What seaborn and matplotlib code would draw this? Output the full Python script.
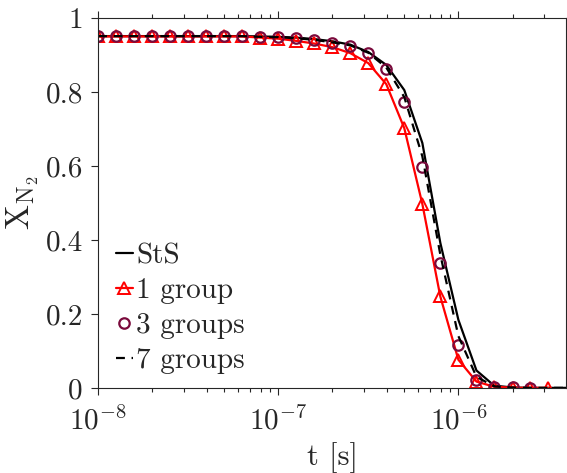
import matplotlib
matplotlib.use("Agg")
import matplotlib.pyplot as plt
from matplotlib.ticker import FuncFormatter, LogLocator
import numpy as np
import pandas as pd
import seaborn as sns

# tiempo [s], una muestra cada 0.1 decadas
t = [1.00e-8, 1.26e-8, 1.58e-8, 2.00e-8, 2.51e-8, 3.16e-8, 3.98e-8, 5.01e-8, 6.31e-8, 7.94e-8,
     1.00e-7, 1.26e-7, 1.58e-7, 2.00e-7, 2.51e-7, 3.16e-7, 3.98e-7, 5.01e-7, 6.31e-7, 7.94e-7,
     1.00e-6, 1.26e-6, 1.58e-6, 2.00e-6, 2.51e-6, 3.16e-6, 3.98e-6]

sts = [0.951, 0.951, 0.951, 0.951, 0.951, 0.951, 0.951, 0.951, 0.951, 0.950,
       0.949, 0.947, 0.943, 0.937, 0.928, 0.908, 0.873, 0.805, 0.662, 0.392,
       0.184, 0.047, 0.006, 0.001, 0.0, 0.0, 0.0]
g1 = [0.950, 0.950, 0.950, 0.950, 0.950, 0.950, 0.950, 0.950, 0.950, 0.947,
      0.944, 0.938, 0.931, 0.921, 0.905, 0.878, 0.821, 0.702, 0.497, 0.247,
      0.076, 0.017, 0.003, 0.0005, 0.0, 0.0]
g3 = [0.951, 0.951, 0.951, 0.951, 0.951, 0.951, 0.951, 0.951, 0.951, 0.949,
      0.948, 0.945, 0.941, 0.933, 0.925, 0.905, 0.862, 0.774, 0.596, 0.338,
      0.116, 0.022, 0.003, 0.001, 0.0]
g7 = [0.951, 0.951, 0.951, 0.951, 0.951, 0.951, 0.951, 0.951, 0.951, 0.949,
      0.948, 0.945, 0.941, 0.934, 0.926, 0.906, 0.866, 0.786, 0.626, 0.360,
      0.140, 0.030, 0.004, 0.001, 0.0, 0.0, 0.0]

sns.set_style("ticks")
plt.rcParams["font.family"] = "serif"
plt.rcParams["font.serif"] = ["cmr10"]
plt.rcParams["mathtext.fontset"] = "cm"
plt.rcParams["axes.formatter.use_mathtext"] = True
gris = "#262626"

fig = plt.figure(figsize=(5.67, 4.73), dpi=100)
ax = fig.add_axes([0.173, 0.18, 0.826, 0.782])

sns.lineplot(x=t, y=sts, ax=ax, color="black", lw=1.6, label="StS")
sns.lineplot(x=t[:len(g1)], y=g1, ax=ax, color="red", lw=1.6, marker="^", markersize=8.5,
             markerfacecolor="none", markeredgecolor="red", markeredgewidth=1.4, label="1 group")
sns.lineplot(x=t[:len(g3)], y=g3, ax=ax, color="#7a0a3c", lw=0, marker="o", markersize=7.5,
             markerfacecolor="none", markeredgecolor="#7a0a3c", markeredgewidth=1.6, label="3 groups")
sns.lineplot(x=t, y=g7, ax=ax, color="black", lw=1.6, linestyle=(0, (4, 3)), label="7 groups")

ax.set_xscale("log")
ax.set_xlim(1e-8, 3.98e-6)
ax.set_ylim(0, 1)
ax.set_yticks([0, 0.2, 0.4, 0.6, 0.8, 1])
ax.yaxis.set_major_formatter(FuncFormatter(lambda v, p: "%g" % v))
ax.xaxis.set_major_locator(LogLocator(base=10, numticks=10))
ax.xaxis.set_minor_locator(LogLocator(base=10, subs=np.arange(2, 10), numticks=10))

for s in ax.spines.values():
    s.set_visible(True)
    s.set_color(gris)
    s.set_linewidth(0.8)
ax.tick_params(which="both", direction="out", top=True, right=True, colors=gris,
               labelsize=21, width=0.8)
ax.tick_params(which="major", length=5, pad=6)
ax.tick_params(which="minor", length=3)
ax.tick_params(axis="x", pad=8)

ax.set_xlabel("t [s]", fontsize=22, labelpad=5, color=gris)
ax.set_ylabel(r"$\mathrm{X}_{\mathrm{N}_2}$", fontsize=24, labelpad=3, color=gris)

leg = ax.legend(loc="lower left", bbox_to_anchor=(0.0, -0.01), frameon=False, fontsize=21,
                handlelength=0.6, handletextpad=0.1, labelspacing=0.29, borderaxespad=0.2)
for txt in leg.get_texts():
    txt.set_color(gris)

fig.savefig("out.png", dpi=100)
